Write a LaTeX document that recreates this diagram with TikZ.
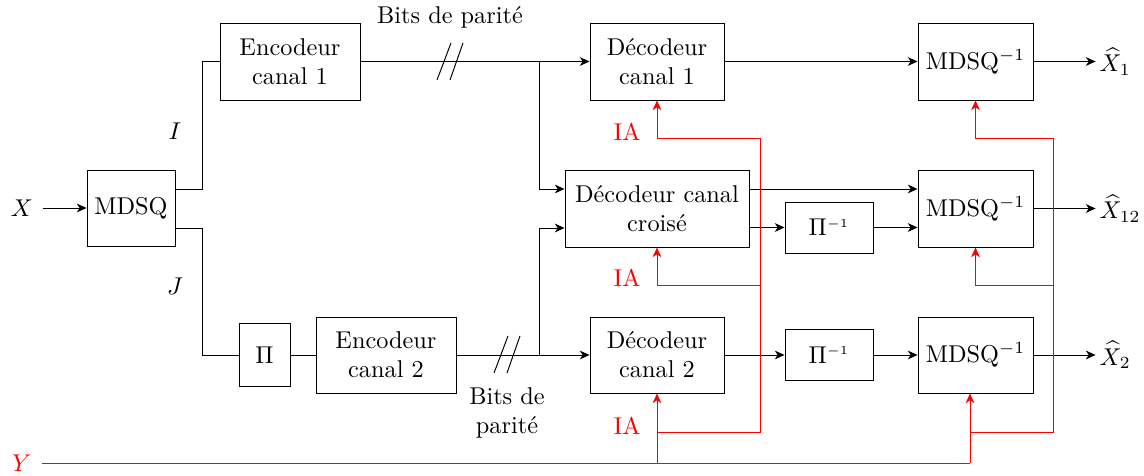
\documentclass[tikz,border=0pt]{standalone}
\usetikzlibrary{arrows.meta,calc}
\def\pxu{0.4115pt}
\tikzset{
  blk/.style={draw, inner sep=0pt, align=center, font=\normalsize},
  arr/.style={-{Stealth[length=4pt,width=3.6pt,inset=1.2pt]}},
  redarr/.style={red, -{Stealth[length=4pt,width=3.6pt,inset=1.2pt]}},
  redl/.style={red},
  lbl/.style={inner sep=1pt},
  outlbl/.style={inner sep=0.5pt, anchor=west},
}
\begin{document}
\begin{tikzpicture}[x=\pxu, y=-\pxu]
\useasboundingbox (0,0) rectangle (1144,476);
% blocks
\node[blk, minimum width=88*\pxu, minimum height=76*\pxu] (mdsq) at (131,208) {MDSQ};
\node[blk, minimum width=140*\pxu, minimum height=77*\pxu] (enc1) at (290,61.5) {Encodeur\\canal 1};
\node[blk, minimum width=51*\pxu, minimum height=63*\pxu] (pi) at (264.5,355) {$\Pi$};
\node[blk, minimum width=140*\pxu, minimum height=76*\pxu] (enc2) at (386,355) {Encodeur\\canal 2};
\node[blk, minimum width=134*\pxu, minimum height=77*\pxu] (dec1) at (657,61.5) {Décodeur\\canal 1};
\node[blk, minimum width=184*\pxu, minimum height=77*\pxu] (decc) at (657,208.5) {Décodeur canal\\croisé};
\node[blk, minimum width=134*\pxu, minimum height=76*\pxu] (dec2) at (657,355) {Décodeur\\canal 2};
\node[blk, minimum width=88*\pxu, minimum height=51*\pxu] (pinv1) at (829,227.5) {$\Pi^{\scriptscriptstyle -1}$};
\node[blk, minimum width=88*\pxu, minimum height=51*\pxu] (pinv2) at (829,355) {$\Pi^{\scriptscriptstyle -1}$};
\node[blk, minimum width=115*\pxu, minimum height=77*\pxu] (mi1) at (975.5,61.5) {MDSQ$^{-1}$};
\node[blk, minimum width=115*\pxu, minimum height=77*\pxu] (mi12) at (975.5,208.5) {MDSQ$^{-1}$};
\node[blk, minimum width=115*\pxu, minimum height=76*\pxu] (mi2) at (975.5,355) {MDSQ$^{-1}$};
% labels
\node[lbl] (X) at (22,208) {$X$};
\node[lbl, red] (Y) at (22,463) {$Y$};
\node[lbl] (I) at (175,131) {$I$};
\node[lbl] (J) at (175,286) {$J$};
\node[outlbl] (xh1) at (1098,61.5) {$\widehat{X}_1$};
\node[outlbl] (xh12) at (1098,208.5) {$\widehat{X}_{12}$};
\node[outlbl] (xh2) at (1098,355) {$\widehat{X}_2$};
\node[lbl] (bits1) at (450,17) {Bits de parité};
\node[lbl, align=center] (bits2) at (507,413) {Bits de\\parité};
\node[lbl, red] (ia1) at (627,132) {IA};
\node[lbl, red] (ia2) at (627,278) {IA};
\node[lbl, red] (ia3) at (627,426) {IA};
% coordinates
\coordinate (s1) at (202,189);
\coordinate (s2) at (202,228);
\coordinate (b1) at (539,61.5);
\coordinate (b2) at (539,355);
% black connectors
\draw[arr] ([xshift=3pt]X.east) -- (mdsq.west);
\draw (mdsq.east |- s1) -- (s1) |- (enc1.west);
\draw (mdsq.east |- s2) -- (s2) |- (pi.west);
\draw (pi.east) -- (enc2.west);
\draw[arr] (enc1.east) -- (dec1.west);
\draw[arr] (enc2.east) -- (dec2.west);
\draw[arr] (b1) |- (decc.west |- 0,189);
\draw[arr] (b2) |- (decc.west |- 0,228);
\draw (437,80) -- (451,43) (450,80) -- (463,43);
\draw (494,373) -- (508,336) (507,373) -- (520,336);
\draw[arr] (dec1.east) -- (mi1.west);
\draw[arr] (decc.east |- 0,189) -- (mi12.west |- 0,189);
\draw[arr] (decc.east |- pinv1) -- (pinv1.west);
\draw[arr] (pinv1.east) -- (mi12.west |- pinv1);
\draw[arr] (dec2.east) -- (pinv2.west);
\draw[arr] (pinv2.east) -- (mi2.west);
\draw[arr, shorten >=1pt] (mi1.east) -- (xh1.west);
\draw[arr, shorten >=1pt] (mi12.east) -- (xh12.west);
\draw[arr, shorten >=1pt] (mi2.east) -- (xh2.west);
% red connectors
\coordinate (ybr) at (970,463);
\coordinate (l1) at (760,138);
\coordinate (l2) at (760,285);
\coordinate (l3) at (760,432);
\coordinate (r1) at (1053,138);
\coordinate (r2) at (1053,285);
\coordinate (r3) at (1053,432);
\draw[redl] ([xshift=3pt]Y.east) -- (ybr);
\draw[redarr] (ybr) -- (ybr |- mi2.south);
\draw[redarr] (dec2.south |- ybr) -- (dec2.south);
\draw[redl] (l1) -- (l3) -- (dec2.south |- l3);
\draw[redarr] (l1) -| (dec1.south);
\draw[redarr] (l2) -| (decc.south);
\draw[redl] (r1) -- (r3) -- (ybr |- r3);
\draw[redarr] (r1) -| (mi1.south);
\draw[redarr] (r2) -| (mi12.south);
\end{tikzpicture}
\end{document}
